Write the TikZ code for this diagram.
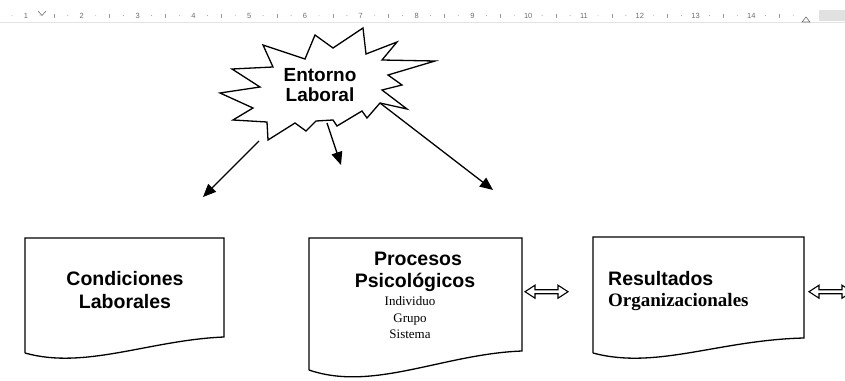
\documentclass[tikz,border=0pt]{standalone}
\usepackage{fontspec}
\setmainfont{Liberation Serif}
\newfontfamily\arialf{Liberation Sans}
\usetikzlibrary{arrows.meta}
\definecolor{rulergray}{HTML}{6E6E6E}
\definecolor{rulerline}{HTML}{E3E3E3}
\definecolor{rulershade}{HTML}{E1E1E1}
\tikzset{
  outline/.style={draw=black, line width=1.3pt, line join=miter},
  ptr/.style={line width=1.3pt, -{Triangle[length=13pt,width=11pt]}},
  bigsans/.style={font=\arialf\bfseries\fontsize{19.5}{22}\selectfont, anchor=base, inner sep=0pt},
  bigserif/.style={font=\rmfamily\bfseries\fontsize{19}{22}\selectfont, anchor=base west, inner sep=0pt},
  smallserif/.style={font=\rmfamily\fontsize{13}{15}\selectfont, anchor=base, inner sep=0pt},
  rulernum/.style={font=\arialf\fontsize{7.5}{8}\selectfont, text=rulergray, inner sep=0pt},
}
\begin{document}
\begin{tikzpicture}[x=1pt,y=-1pt]
\useasboundingbox (0,0) rectangle (845,380);
\clip (0,0) rectangle (845,380);
% ruler
\fill[rulershade] (819,10) rectangle (845,21);
\draw[rulerline, line width=1pt] (0,22) -- (845,22);
\foreach \n in {1,...,14} {
  \node[rulernum] (rn\n) at ({26+55.8*(\n-1)},15.5) {\n};
}
\foreach \n in {0,...,14} {
  \fill[rulergray!70] ({26+55.8*(\n-1)+13.95},15.5) circle (0.45);
  \draw[rulergray!70, line width=0.5pt] ({26+55.8*(\n-1)+27.9},13.5) -- ++(0,4);
  \fill[rulergray!70] ({26+55.8*(\n-1)+41.85},15.5) circle (0.45);
}
\draw[rulergray, line width=0.6pt] (38,11) -- (42,15.5) -- (46,11);
\draw[rulergray, line width=0.6pt, fill=white] (802,22) -- (806,17) -- (810,22) -- cycle;
% star
\draw[outline, fill=white] (263,45) -- (305,59) -- (315,35) -- (333,48) -- (363,28) -- (366,54)
  -- (397,42) -- (382,60) -- (435,61) -- (388,75) -- (402,85) -- (382,90) -- (407,109)
  -- (380,103) -- (367,118) -- (362,111) -- (337,126) -- (333,120) -- (316,121) -- (306,131)
  -- (295,123) -- (268,140) -- (267,122) -- (233,120) -- (253,108) -- (220,93) -- (260,87)
  -- (232,69) -- (273,67) -- cycle;
\node[bigsans, font=\arialf\bfseries\fontsize{19}{22}\selectfont] (ent) at (320,81.5) {Entorno};
\node[bigsans, font=\arialf\bfseries\fontsize{19}{22}\selectfont] (lab) at (320,101.5) {Laboral};
% arrows from star
\coordinate (s1) at (259,141);
\coordinate (s2) at (327,123);
\coordinate (s3) at (380,103);
\coordinate (e1) at (203,197);
\coordinate (e2) at (341,165);
\coordinate (e3) at (493,190);
\draw[ptr] (s1) -- (e1);
\draw[ptr] (s2) -- (e2);
\draw[ptr] (s3) -- (e3);
% box 1
\draw[outline] (25,353) -- (25,238) -- (224,238) -- (224,337)
  .. controls (150,340) and (85,370) .. (25,353);
\node[bigsans] (c1) at (125,285) {Condiciones};
\node[bigsans] (c2) at (125,308) {Laborales};
% box 2
\draw[outline] (309,370) -- (309,238) -- (522,238) -- (522,351)
  .. controls (443,354) and (373,392) .. (309,370);
\node[bigsans] (p1) at (418,265.5) {Procesos};
\node[bigsans] (p2) at (415,287.5) {Psicológicos};
\node[smallserif] (p3) at (410,305.5) {Individuo};
\node[smallserif] (p4) at (410,322) {Grupo};
\node[smallserif] (p5) at (410,338) {Sistema};
% box 3
\draw[outline] (593,353) -- (593,237) -- (804,237) -- (804,338)
  .. controls (719,340) and (656,370) .. (593,353);
\node[bigsans, anchor=base west] (r1) at (608,285) {Resultados};
\node[bigserif] (r2) at (608,306) {Organizacionales};
% double arrows
\foreach \x in {525,809} {
  \draw[line width=1.1pt, line join=miter] (\x,291.7) -- ++(10,-6.5) -- ++(0,4.5) -- ++(23,0)
    -- ++(0,-4.5) -- ++(10,6.5) -- ++(-10,6.5) -- ++(0,-4.5) -- ++(-23,0) -- ++(0,4.5) -- cycle;
}
\end{tikzpicture}
\end{document}
